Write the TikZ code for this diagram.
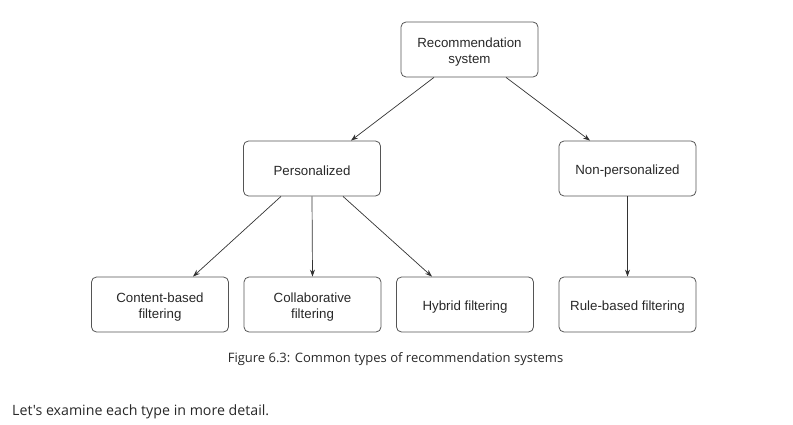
\documentclass[tikz,border=0pt]{standalone}
\usepackage{fontspec}
\setmainfont{Liberation Sans}
\newfontfamily\captionfont{Open Sans}
\usetikzlibrary{positioning,arrows.meta}
\definecolor{boxline}{RGB}{85,85,85}
\definecolor{textgray}{RGB}{40,40,40}

\begin{document}
\begin{tikzpicture}[x=1pt,y=-1pt,
  box/.style={draw=boxline, rounded corners=5pt, minimum width=137pt, minimum height=55pt,
    align=center, text=textgray, font=\fontsize{13.3}{15.5}\selectfont, line width=0.8pt,
    execute at begin node={\rule{0pt}{14.5pt}}},
  twoline/.style={text height=27.3pt, text depth=0pt},
  link/.style={draw=black!80, line width=0.7pt, -{Stealth[length=7pt,width=5pt]}}]
\useasboundingbox (0,0) rectangle (793,425);

% Top
\node[box,twoline] (rec) at (469.5,49.5) {Recommendation\\system};

% Middle
\node[box] (pers) at (312,168.5) {Personalized};
\node[box] (nonpers) at (627.5,168.5) {Non-personalized};

% Bottom
\node[box,twoline] (content) at (160,304.5) {Content-based\\filtering};
\node[box,twoline] (collab) at (312.5,304.5) {Collaborative\\filtering};
\node[box] (hybrid) at (465,304.5) {Hybrid filtering};
\node[box] (rule) at (627.5,304.5) {Rule-based filtering};

% Arrows
\draw[link] ([xshift=-35.5pt]rec.south) -- ([xshift=39pt]pers.north);
\draw[link] ([xshift=36.5pt]rec.south) -- ([xshift=-37.5pt]nonpers.north);
\draw[link] ([xshift=-31pt]pers.south) -- ([xshift=33pt]content.north);
\draw[link] (pers.south) -- (collab.north);
\draw[link] ([xshift=31pt]pers.south) -- ([xshift=-33pt]hybrid.north);
\draw[link] (nonpers.south) -- (rule.north);

% Caption and text
\node[text=textgray, font=\captionfont\fontsize{13}{15}\selectfont] (caption) at (395.5,359.5) {Figure 6.3: Common types of recommendation systems};
\node[text=textgray, font=\captionfont\fontsize{14.2}{16}\selectfont, anchor=west, inner sep=0pt] (more) at (12,411.5) {Let's examine each type in more detail.};
\end{tikzpicture}
\end{document}
